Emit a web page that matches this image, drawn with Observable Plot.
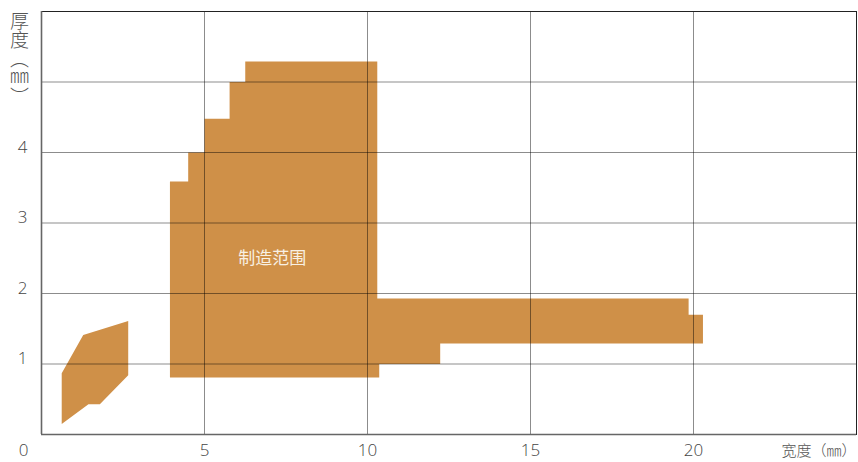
<!DOCTYPE html>
<html>
<head>
<meta charset="utf-8">
<script src="https://cdn.jsdelivr.net/npm/d3@7"></script>
<script src="https://cdn.jsdelivr.net/npm/@observablehq/plot@0.6"></script>
<style>
  html, body { margin: 0; padding: 0; background: #fff; }
  #wrap { position: relative; width: 858px; height: 462px; }
  #ytitle {
    position: absolute; left: 10px; top: 11px;
    writing-mode: vertical-rl;
    font-family: "Noto Sans CJK SC", sans-serif; font-weight: 300;
    font-size: 19px; color: #555; line-height: 1;
  }
</style>
</head>
<body>
<div id="wrap"><div id="ytitle">厚度（㎜）</div></div>
<script>
// Data: two production-range regions (width mm, thickness mm)
const bigShapeX = [3.94, 3.94, 4.5, 4.5, 5.0, 5.0, 5.77, 5.77, 6.25, 6.25, 10.3, 10.3, 19.85, 19.85, 20.29, 20.29, 12.23, 12.23, 10.36, 10.36];
const bigShapeY = [0.81, 3.59, 3.59, 4.0, 4.0, 4.48, 4.48, 5.0, 5.0, 5.29, 5.29, 1.93, 1.93, 1.70, 1.70, 1.29, 1.29, 1.0, 1.0, 0.81];
const smallShapeX = [0.62, 1.28, 2.66, 2.66, 1.79, 1.44, 0.62];
const smallShapeY = [0.87, 1.41, 1.61, 0.84, 0.43, 0.43, 0.15];
const xTicks = [5, 10, 15, 20];
const yTicks = [1, 2, 3, 4];
const gridYValues = [1, 2, 3, 4, 5];
const regionLabel = "制造范围";
const xTitle = "宽度（㎜）";
const fillColor = "#cf9048";

const points = [
  ...bigShapeX.map((x, i) => ({shape: "big", x, y: bigShapeY[i]})),
  ...smallShapeX.map((x, i) => ({shape: "small", x, y: smallShapeY[i]}))
];

const tickFont = {fontFamily: "'Open Sans', 'Liberation Sans', sans-serif", fontWeight: 300};

const chart = Plot.plot({
  width: 858,
  height: 462,
  marginLeft: 41,
  marginRight: 2,
  marginTop: 11,
  marginBottom: 28,
  x: {domain: [0, 25], axis: null},
  y: {domain: [0, 6], axis: null},
  style: {background: "transparent", overflow: "visible"},
  marks: [
    Plot.line(points, {x: "x", y: "y", z: "shape", fill: fillColor, stroke: "none", curve: "linear-closed"}),
    Plot.gridX(xTicks, {stroke: "#000", strokeOpacity: 0.45, strokeWidth: 1}),
    Plot.gridY(gridYValues, {stroke: "#000", strokeOpacity: 0.45, strokeWidth: 1}),
    Plot.frame({stroke: "#222", strokeWidth: 1}),
    Plot.ruleX([0], {stroke: "#666", strokeWidth: 1.6}),
    Plot.ruleY([0], {stroke: "#666", strokeWidth: 1.6}),
    Plot.text([{x: 7.08, y: 2.5}], {x: "x", y: "y", text: () => regionLabel, fill: "#f8f0e4", fontSize: 17,
      fontFamily: "'Noto Sans CJK SC', sans-serif"}),
    Plot.text(xTicks, {x: d => d, y: () => 0, text: d => String(d), dy: 16, fontSize: 17, fill: "#444", ...tickFont}),
    Plot.text(yTicks, {x: () => 0, y: d => d, text: d => String(d), dx: -19, dy: -5, fontSize: 17, fill: "#444", ...tickFont}),
    Plot.text([0], {x: d => d, y: d => d, text: d => String(d), dx: -18, dy: 16, fontSize: 17, fill: "#444", ...tickFont}),
    Plot.text([25], {x: d => d, y: () => 0, text: () => xTitle, dy: 17, textAnchor: "end", fontSize: 15, fill: "#555",
      fontFamily: "'Noto Sans CJK SC', sans-serif", fontWeight: 300})
  ]
});
document.getElementById("wrap").appendChild(chart);
chart.style.position = "absolute";
chart.style.left = "0";
chart.style.top = "0";
</script>
</body>
</html>
